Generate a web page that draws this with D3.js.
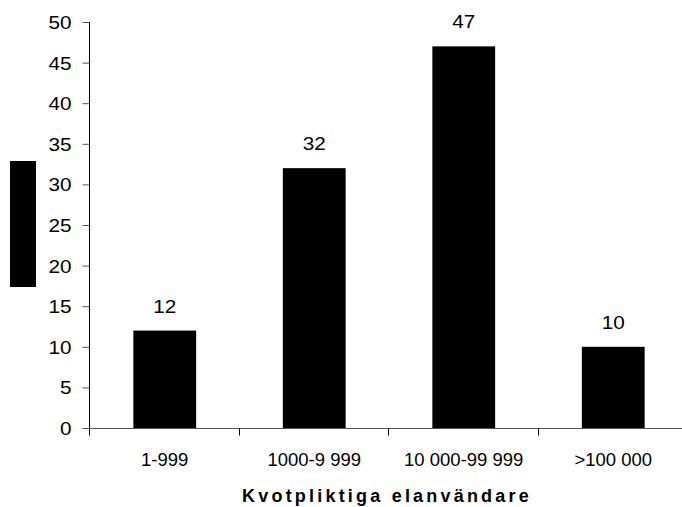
<!DOCTYPE html>
<html><head><meta charset="utf-8">
<script src="https://cdn.jsdelivr.net/npm/d3@7"></script>
<style>body{margin:0;background:#fff}svg{display:block}</style>
</head><body>
<script>
const categories = ["1-999", "1000-9 999", "10 000-99 999", ">100 000"];
const values = [12, 32, 47, 10];
const yTicks = [0, 5, 10, 15, 20, 25, 30, 35, 40, 45, 50];
const xTitle = "Kvotpliktiga elanvändare";

const W = 682, H = 507;
const svg = d3.select("body").append("svg").attr("width", W).attr("height", H);
const font = "'Liberation Sans', Arial, sans-serif";

const x = d3.scaleBand().domain(categories).range([90, 688]).paddingInner(0.58).paddingOuter(0.29);
const y = d3.scaleLinear().domain([0, 50]).range([428, 22]);

// y-axis title placeholder (black box)
svg.append("rect").attr("x", 10).attr("y", 161).attr("width", 26).attr("height", 126).attr("fill", "#000");

// bars
svg.selectAll("rect.bar").data(values).enter().append("rect")
  .attr("class", "bar")
  .attr("x", (d, i) => x(categories[i]))
  .attr("width", x.bandwidth())
  .attr("y", d => y(d))
  .attr("height", d => y(0) - y(d))
  .attr("fill", "#000");

// value labels
svg.selectAll("text.val").data(values).enter().append("text")
  .attr("class", "val")
  .attr("transform", (d, i) => `translate(${x(categories[i]) + x.bandwidth() / 2},${y(d) - 18}) scale(1.12,1)`)
  .attr("text-anchor", "middle")
  .attr("font-family", font).attr("font-size", 18.5)
  .text(d => d);

// y axis
const ya = svg.append("g").attr("transform", "translate(89.5,0)")
  .call(d3.axisLeft(y).tickValues(yTicks).tickSize(7).tickPadding(11));
ya.select(".domain").attr("stroke", "#000").attr("d", `M0,${y(50)}V${y(0)}`);
ya.selectAll(".tick line").attr("stroke", "#555");
ya.selectAll("text").attr("font-family", font).attr("font-size", 18.5).attr("fill", "#000")
  .attr("x", null).attr("dy", "0.35em")
  .attr("transform", "translate(-18,0) scale(1.12,1)");

// x axis
const xg = svg.append("g").attr("transform", `translate(0,${y(0) + 0.5})`);
xg.append("line").attr("x1", 89.5).attr("x2", 688).attr("stroke", "#555");
const step = x.step();
const bounds = d3.range(categories.length + 1).map(i => 90 + i * step);
xg.selectAll("line.t").data(bounds).enter().append("line")
  .attr("x1", d => Math.round(d) - 0.5).attr("x2", d => Math.round(d) - 0.5)
  .attr("y1", 0).attr("y2", 7).attr("stroke", "#000");
xg.selectAll("text").data(categories).enter().append("text")
  .attr("x", d => x(d) + x.bandwidth() / 2)
  .attr("y", 37)
  .attr("text-anchor", "middle")
  .attr("font-family", font).attr("font-size", 18.5)
  .text(d => d);

// x title
svg.append("text")
  .attr("x", 387).attr("y", 501.5)
  .attr("text-anchor", "middle")
  .attr("font-family", font).attr("font-size", 18).attr("font-weight", "bold")
  .attr("letter-spacing", 3.2)
  .text(xTitle);
</script>
</body></html>
